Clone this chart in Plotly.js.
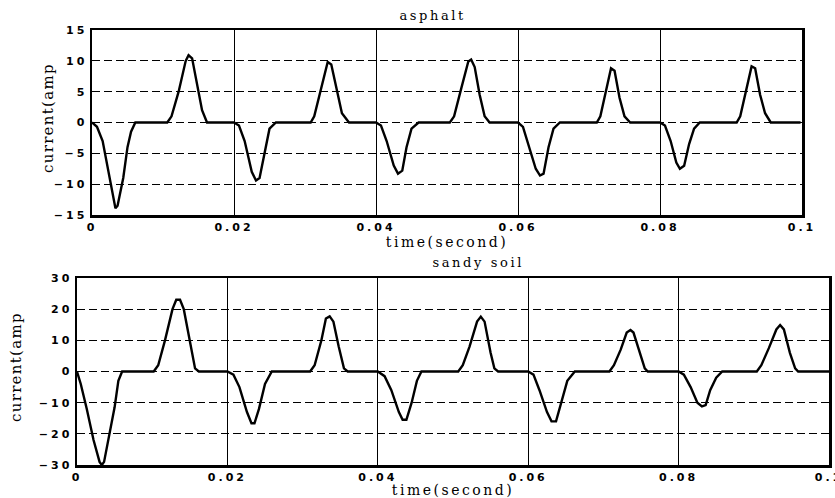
<!DOCTYPE html>
<html>
<head>
<meta charset="utf-8">
<script src="https://cdn.plot.ly/plotly-3.0.1.min.js"></script>
<style>
html,body{margin:0;padding:0;background:#fff;}
#chart{width:835px;height:498px;}
g.xtick text, g.ytick text, g.x2tick text, g.y2tick text {letter-spacing:3px;}
text.xtitle, text.x2title {letter-spacing:2.5px;}
text.annotation-text {letter-spacing:1.3px;}
g.annotation[data-index="0"] text.annotation-text, g.annotation[data-index="1"] text.annotation-text {letter-spacing:2.6px;}
</style>
</head>
<body>
<div id="chart"></div>
<script>
// asphalt (top panel)
const asphaltTime = [0,0.0007,0.0015,0.0025,0.0033,0.0036,0.0044,0.0050,0.0055,0.0061,0.0106,0.0112,0.0122,0.0132,0.0136,0.0141,0.0148,0.0155,0.0162,
0.0200,0.0207,0.0215,0.0225,0.0231,0.0236,0.0243,0.0250,0.0259,0.0308,0.0313,0.0323,0.0332,0.0337,0.0344,0.0352,0.0362,
0.0400,0.0407,0.0415,0.0425,0.0431,0.0437,0.0443,0.0450,0.0460,0.0504,0.0510,0.0520,0.0530,0.0534,0.0539,0.0546,0.0553,0.0560,
0.0600,0.0607,0.0616,0.0625,0.0631,0.0636,0.0643,0.0650,0.0659,0.0711,0.0716,0.0724,0.0731,0.0736,0.0743,0.0750,0.0758,
0.0800,0.0807,0.0815,0.0823,0.0828,0.0834,0.0841,0.0848,0.0856,0.0908,0.0913,0.0921,0.0929,0.0934,0.0941,0.0948,0.0956,0.0998];
const asphaltCurrent = [0,-0.7,-3,-9,-13.9,-13.5,-9,-4,-1.5,0,0,1,5,10,10.9,10.4,6,2,0,
0,-0.5,-3,-8,-9.4,-9,-5,-1,0,0,1,5.5,9.8,9.4,5.5,1.5,0,
0,-0.5,-3,-7,-8.3,-7.8,-4,-1,0,0,1,5.5,9.9,10.2,9,4.5,1,0,
0,-0.7,-4,-7.5,-8.6,-8.3,-4,-1,0,0,1,5,8.8,8.4,4,1,0,
0,-0.5,-3,-6.5,-7.5,-7,-3.5,-1,0,0,1,5,9.1,8.8,4.5,1.5,0,0];

// sandy soil (bottom panel)
const sandTime = [0,0.0005,0.0013,0.0022,0.0030,0.0033,0.0036,0.0043,0.0050,0.0055,0.0060,0.0102,0.0108,0.0117,0.0127,0.0132,0.0137,0.0142,0.0150,0.0157,0.0162,
0.0200,0.0208,0.0216,0.0226,0.0232,0.0236,0.0242,0.0250,0.0259,0.0310,0.0316,0.0325,0.0331,0.0336,0.0341,0.0348,0.0355,0.0360,
0.0400,0.0409,0.0418,0.0428,0.0433,0.0438,0.0445,0.0452,0.0458,0.0507,0.0513,0.0522,0.0532,0.0537,0.0542,0.0550,0.0555,0.0560,
0.0600,0.0607,0.0615,0.0625,0.0631,0.0637,0.0645,0.0652,0.0662,0.0708,0.0714,0.0723,0.0731,0.0736,0.0740,0.0748,0.0755,0.0759,
0.0800,0.0807,0.0816,0.0825,0.0831,0.0836,0.0842,0.0850,0.0858,0.0904,0.0910,0.0920,0.0930,0.0935,0.0940,0.0948,0.0955,0.0959,0.1000];
const sandCurrent = [0,-4,-12,-22,-29,-30,-29,-20,-11.5,-3,0,0,2,10,20,23,23,20,10,1,0,
0,-1,-5,-13,-16.6,-16.6,-12,-4,0,0,2,10,17,17.7,16,8,1,0,
0,-1.5,-6,-13,-15.5,-15.5,-10,-3,0,0,2,8,16,17.6,16,6,1,0,
0,-1,-6,-13,-16,-16,-9,-3,0,0,2,7,12.5,13.3,12.5,6,1,0,
0,-1,-5,-10,-11.2,-10.8,-6,-2,0,0,2,7.5,13.5,14.9,13.5,6,1,0,0];

const xTickVals = [0,0.02,0.04,0.06,0.08,0.1];
const xTickText = ['0','0.02','0.04','0.06','0.08','0.1'];
const yTopTicks = [-15,-10,-5,0,5,10,15];
const yBotTicks = [-30,-20,-10,0,10,20,30];
const panelTitles = ['asphalt','sandy soil'];
const xTitle = 'time(second)';
const yTitle = 'current(amp';

const W = 835, H = 498;
const px = v => v / W, py = v => 1 - v / H;

const traces = [
  {x: asphaltTime, y: asphaltCurrent, xaxis:'x', yaxis:'y', mode:'lines', line:{color:'#000', width:2.4}, hoverinfo:'skip'},
  {x: sandTime, y: sandCurrent, xaxis:'x2', yaxis:'y2', mode:'lines', line:{color:'#000', width:2.4}, hoverinfo:'skip'}
];

const tickFont = {family:'DejaVu Sans, sans-serif', size:11, color:'#000', weight:'bold'};
const serif = 'DejaVu Serif, serif';

function xax(d, anchor){
  return {domain:d, anchor:anchor, range:[0,0.1], tickvals:xTickVals, ticktext:xTickText,
    showgrid:true, gridcolor:'#000', gridwidth:1, zeroline:false,
    showline:true, mirror:true, linecolor:'#000', linewidth:2.5, ticks:'', ticklen:0,
    ticklabeloverflow:'allow', tickfont:tickFont, fixedrange:true,
    title:{text:xTitle, font:{family:serif, size:14, color:'#000'}, standoff:4}};
}
function yax(d, anchor, range, ticks){
  return {domain:d, anchor:anchor, range:range, tickvals:ticks,
    showgrid:true, gridcolor:'#000', gridwidth:1, griddash:'8px,4px', zeroline:false,
    showline:true, mirror:true, linecolor:'#000', linewidth:2.5, ticks:'', ticklen:0,
    ticklabeloverflow:'allow', tickfont:tickFont, fixedrange:true};
}

const layout = {
  width:W, height:H, margin:{l:0,r:0,t:0,b:0}, showlegend:false,
  paper_bgcolor:'#fff', plot_bgcolor:'#fff',
  xaxis: xax([px(92), px(802)], 'y'),
  yaxis: yax([py(215), py(30)], 'x', [-15,15], yTopTicks),
  xaxis2: xax([px(77), px(829)], 'y2'),
  yaxis2: yax([py(465), py(278)], 'x2', [-30,30], yBotTicks),
  annotations:[
    {text:panelTitles[0], xref:'paper', yref:'paper', x:px(432), y:py(15), showarrow:false, xanchor:'center', yanchor:'middle', font:{family:serif, size:13, color:'#000'}},
    {text:panelTitles[1], xref:'paper', yref:'paper', x:px(478), y:py(262), showarrow:false, xanchor:'center', yanchor:'middle', font:{family:serif, size:13, color:'#000'}},
    {text:yTitle, xref:'paper', yref:'paper', x:px(48), y:py(118), textangle:-90, showarrow:false, xanchor:'center', yanchor:'middle', font:{family:serif, size:15, color:'#000'}},
    {text:yTitle, xref:'paper', yref:'paper', x:px(16), y:py(367), textangle:-90, showarrow:false, xanchor:'center', yanchor:'middle', font:{family:serif, size:15, color:'#000'}}
  ]
};

Plotly.newPlot('chart', traces, layout, {displayModeBar:false, staticPlot:true});
</script>
</body>
</html>
